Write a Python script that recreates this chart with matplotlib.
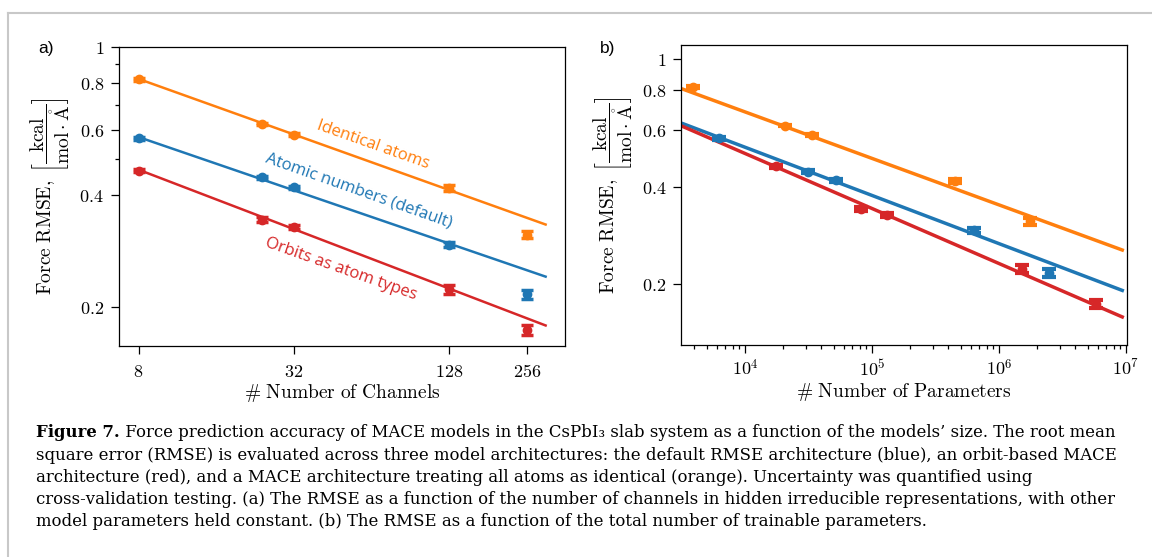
import numpy as np
import matplotlib
matplotlib.use("Agg")
import matplotlib.pyplot as plt
from matplotlib.lines import Line2D
from matplotlib.ticker import NullLocator, NullFormatter, FixedLocator, LogLocator

plt.rcParams['mathtext.fontset'] = 'cm'

# ---------------- data ----------------
channels = [8, 24, 32, 128, 256]
rmse_identical = [0.820, 0.621, 0.582, 0.418, 0.313]
rmse_atomic = [0.568, 0.446, 0.420, 0.294, 0.216]
rmse_orbits = [0.465, 0.343, 0.328, 0.223, 0.173]
err_identical = [0.007, 0.004, 0.004, 0.007, 0.007]
err_atomic = [0.006, 0.005, 0.004, 0.005, 0.006]
err_orbits = [0.005, 0.005, 0.005, 0.006, 0.005]

params_identical = [3900, 20700, 33600, 448000, 1.76e6]
params_atomic = [6300, 31500, 51900, 637000, 2.47e6]
params_orbits = [17700, 81500, 131000, 1.53e6, 5.85e6]

# fitted power-law lines (end points)
fit_channels = [8, 302]
fit_a_identical = [0.822, 0.333]
fit_a_atomic = [0.573, 0.241]
fit_a_orbits = [0.468, 0.178]
fit_params = [3270, 9.35e6]
fit_b_identical = [0.805, 0.255]
fit_b_atomic = [0.629, 0.191]
fit_b_orbits = [0.616, 0.158]

labels = ["Identical atoms", "Atomic numbers (default)", "Orbits as atom types"]
colors = ["#ff7f0e", "#1f77b4", "#d62728"]

yticks = [0.2, 0.4, 0.6, 0.8, 1]
ytick_labels = [r"$0.2$", r"$0.4$", r"$0.6$", r"$0.8$", r"$1$"]
xticks_a = [8, 32, 128, 256]
xticks_b = [1e4, 1e5, 1e6, 1e7]
xtick_labels_b = [r"$10^{4}$", r"$10^{5}$", r"$10^{6}$", r"$10^{7}$"]

caption_bold = "Figure 7."
caption_lines = [
    " Force prediction accuracy of MACE models in the CsPbI\u2083 slab system as a function of the models\u2019 size. The root mean",
    "square error (RMSE) is evaluated across three model architectures: the default RMSE architecture (blue), an orbit-based MACE",
    "architecture (red), and a MACE architecture treating all atoms as identical (orange). Uncertainty was quantified using",
    "cross-validation testing. (a) The RMSE as a function of the number of channels in hidden irreducible representations, with other",
    "model parameters held constant. (b) The RMSE as a function of the total number of trainable parameters.",
]

# ---------------- figure ----------------
W, H = 1152, 557
fig = plt.figure(figsize=(W / 100, H / 100), dpi=100)

def px_rect(l, r, t, b):
    return [l / W, 1 - b / H, (r - l) / W, (b - t) / H]

ax_a = fig.add_axes(px_rect(119.3, 565.3, 47.3, 345.7))
ax_b = fig.add_axes(px_rect(681.4, 1127.0, 45.0, 345.3))

ylab = r"$\mathrm{Force\ RMSE,}\ \left[\dfrac{\mathrm{kcal}}{\mathrm{mol}\cdot\mathring{\mathrm{A}}}\right]$"
tick_fs = 13
lab_fs = 14

# panel a
ys_a = [rmse_identical, rmse_atomic, rmse_orbits]
es_a = [err_identical, err_atomic, err_orbits]
fits_a = [fit_a_identical, fit_a_atomic, fit_a_orbits]
for y, e, f, c in zip(ys_a, es_a, fits_a, colors):
    ax_a.plot(fit_channels, f, color=c, lw=1.8, zorder=2)
    ax_a.errorbar(channels, y, yerr=e, fmt='o', color=c, ms=6, elinewidth=2,
                  capsize=4.5, capthick=2.5, zorder=3)
ax_a.set_xscale('log', base=2)
ax_a.set_yscale('log')
ax_a.set_xlim(6.74, 360)
ax_a.set_ylim(0.157, 1.0)
ax_a.xaxis.set_major_locator(FixedLocator(xticks_a))
ax_a.set_xticklabels([r"$%d$" % t for t in xticks_a])
ax_a.xaxis.set_minor_locator(NullLocator())
ax_a.yaxis.set_major_locator(FixedLocator(yticks))
ax_a.set_yticklabels(ytick_labels)
ax_a.yaxis.set_minor_locator(FixedLocator([0.5, 0.7, 0.9]))
ax_a.yaxis.set_minor_formatter(NullFormatter())
ax_a.tick_params(axis='both', which='major', length=6, width=0.9, labelsize=tick_fs)
ax_a.tick_params(axis='both', which='minor', length=3.2, width=0.9)
ax_a.tick_params(axis='x', which='major', pad=6.5)
ax_a.tick_params(axis='y', which='major', pad=5)
ax_a.set_xlabel(r"$\#\ \mathrm{Number\ of\ Channels}$", fontsize=lab_fs)
ax_a.set_ylabel(ylab, fontsize=lab_fs)
ax_a.yaxis.set_label_coords(-0.105, 0.5)
ax_a.xaxis.set_label_coords(0.5, -0.12)

# rotated curve labels
text_pos = [(0.57, 0.672), (0.538, 0.52), (0.497, 0.255)]
for lab, (tx, ty), c in zip(labels, text_pos, colors):
    ax_a.annotate(lab, xy=(tx, ty), xycoords='axes fraction', rotation=-19.5,
                  color=c, fontsize=12, family='Open Sans', ha='center', va='center',
                  rotation_mode='anchor')

# panel b
xs_b = [params_identical, params_atomic, params_orbits]
fits_b = [fit_b_identical, fit_b_atomic, fit_b_orbits]
for x, y, e, f, c in zip(xs_b, ys_a, es_a, fits_b, colors):
    ax_b.plot(fit_params, f, color=c, lw=2.5, zorder=2)
    ax_b.errorbar(x, y, yerr=e, fmt='o', color=c, ms=6, elinewidth=2.2,
                  capsize=5, capthick=3, zorder=3)
ax_b.set_xscale('log')
ax_b.set_yscale('log')
ax_b.set_xlim(10 ** 3.5, 10 ** 7.008)
ax_b.set_ylim(0.129, 1.105)
ax_b.xaxis.set_major_locator(FixedLocator(xticks_b))
ax_b.set_xticklabels(xtick_labels_b)
ax_b.xaxis.set_minor_locator(LogLocator(base=10, subs=np.arange(2, 10)))
ax_b.xaxis.set_minor_formatter(NullFormatter())
ax_b.yaxis.set_major_locator(FixedLocator(yticks))
ax_b.set_yticklabels(ytick_labels)
ax_b.yaxis.set_minor_locator(NullLocator())
ax_b.tick_params(axis='both', which='major', length=6, width=0.9, labelsize=tick_fs)
ax_b.tick_params(axis='both', which='minor', length=3.2, width=0.9)
ax_b.tick_params(axis='x', which='major', pad=4)
ax_b.tick_params(axis='y', which='major', pad=5)
ax_b.set_xlabel(r"$\#\ \mathrm{Number\ of\ Parameters}$", fontsize=lab_fs)
ax_b.set_ylabel(ylab, fontsize=lab_fs)
ax_b.yaxis.set_label_coords(-0.104, 0.5)
ax_b.xaxis.set_label_coords(0.5, -0.12)

for ax in (ax_a, ax_b):
    for s in ax.spines.values():
        s.set_linewidth(0.9)

# panel letters
fig.text(46 / W, 1 - 48 / H, "a)", family='Liberation Sans', fontsize=12.5, ha='center', va='center')
fig.text(608 / W, 1 - 49 / H, "b)", family='Liberation Sans', fontsize=12.5, ha='center', va='center')

# frame lines
fig.add_artist(Line2D([8 / W, 1], [1 - 12.5 / H, 1 - 12.5 / H], transform=fig.transFigure,
                      color='#c8c8c8', lw=1.5))
fig.add_artist(Line2D([8 / W, 8 / W], [0, 1 - 12.5 / H], transform=fig.transFigure,
                      color='#c8c8c8', lw=1.5))

# caption, font size chosen so that the first line spans the same width as the reference
cap_family = ['DejaVu Serif']
baselines = [437.3, 459.6, 481.9, 504.2, 526.5]
x0 = 36 / W
target_w = 1122 - 36
r = fig.canvas.get_renderer()
cap_fs = 12.0
for _ in range(2):
    t1 = fig.text(0, 0, caption_bold, family=cap_family, fontsize=cap_fs, fontweight='bold')
    t2 = fig.text(0, 0, caption_lines[0], family=cap_family, fontsize=cap_fs)
    wtot = t1.get_window_extent(r).width + t2.get_window_extent(r).width
    t1.remove(); t2.remove()
    cap_fs = cap_fs * target_w / wtot

tb = fig.text(x0, 1 - baselines[0] / H, caption_bold, family=cap_family, fontsize=cap_fs,
              fontweight='bold', ha='left', va='baseline')
bb = tb.get_window_extent(r)
fig.text(bb.x1 / W, 1 - baselines[0] / H, caption_lines[0], family=cap_family, fontsize=cap_fs,
         ha='left', va='baseline')
for line, bl in zip(caption_lines[1:], baselines[1:]):
    fig.text(x0, 1 - bl / H, line, family=cap_family, fontsize=cap_fs, ha='left', va='baseline')

fig.savefig("out.png", dpi=100)
